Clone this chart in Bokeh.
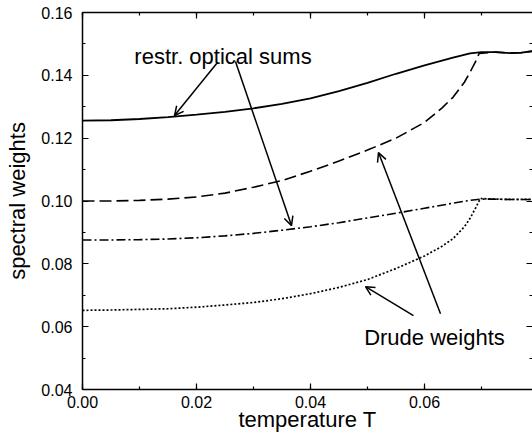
from bokeh.plotting import figure
from bokeh.models import (Range1d, LinearAxis, SingleIntervalTicker, NumeralTickFormatter,
                          CustomJSTickFormatter, Arrow, OpenHead, Label)
from bokeh.embed import file_html
from bokeh.resources import INLINE

# ---- data ----
T_opt1 = [0, 0.005, 0.01, 0.015, 0.02, 0.025, 0.03, 0.035, 0.04, 0.045, 0.05, 0.055,
          0.06, 0.065, 0.068, 0.070, 0.0725, 0.075, 0.077, 0.079]
V_opt1 = [0.1256, 0.1257, 0.1261, 0.1267, 0.1275, 0.1284, 0.1295, 0.1309, 0.1327, 0.1350,
          0.1376, 0.1405, 0.1432, 0.1456, 0.1470, 0.1474, 0.1474, 0.1471, 0.1472, 0.1477]

T_dru1 = [0, 0.005, 0.01, 0.015, 0.02, 0.025, 0.03, 0.035, 0.04, 0.045, 0.05, 0.055,
          0.06, 0.063, 0.065, 0.067, 0.068, 0.069, 0.0696, 0.0725, 0.075, 0.077, 0.079]
V_dru1 = [0.1000, 0.1000, 0.1002, 0.1006, 0.1013, 0.1025, 0.1044, 0.1065, 0.1095, 0.1127,
          0.1162, 0.1200, 0.1250, 0.1295, 0.1330, 0.1378, 0.1410, 0.1445, 0.1470, 0.1474,
          0.1471, 0.1472, 0.1477]

T_opt2 = [0, 0.005, 0.01, 0.015, 0.02, 0.025, 0.03, 0.035, 0.04, 0.045, 0.05, 0.055,
          0.06, 0.065, 0.068, 0.0698, 0.072, 0.075, 0.079]
V_opt2 = [0.0876, 0.0876, 0.0877, 0.0879, 0.0883, 0.0889, 0.0897, 0.0907, 0.0918, 0.0931,
          0.0946, 0.0961, 0.0977, 0.0993, 0.1002, 0.1006, 0.1006, 0.1005, 0.1005]

T_dru2 = [0, 0.005, 0.01, 0.015, 0.02, 0.025, 0.03, 0.035, 0.04, 0.045, 0.05, 0.055,
          0.06, 0.063, 0.065, 0.067, 0.068, 0.069, 0.0698, 0.072, 0.075, 0.079]
V_dru2 = [0.0652, 0.0653, 0.0655, 0.0657, 0.0662, 0.0669, 0.0677, 0.0689, 0.0705, 0.0725,
          0.0750, 0.0785, 0.0825, 0.0855, 0.0880, 0.0918, 0.0945, 0.0979, 0.1008, 0.1006,
          0.1005, 0.1005]

# annotation texts and arrows (start T, start V, tip T, tip V)
label_opt = "restr. optical sums"
label_opt_pos = (0.02465, 0.1460)
arrows_opt = [(0.02368, 0.14408, 0.01614, 0.12720),
              (0.02684, 0.14439, 0.03667, 0.09217)]
label_dru = "Drude weights"
label_dru_pos = (0.06175, 0.0566)
arrows_dru = [(0.06281, 0.06414, 0.05193, 0.11541),
              (0.05807, 0.06350, 0.04965, 0.07274)]
x_title = "temperature T"
y_title = "spectral weights"

FONT = "Liberation Sans"

p = figure(width=532, height=434, output_backend="svg", toolbar_location=None,
           x_range=Range1d(0, 0.07895), y_range=Range1d(0.04, 0.16),
           x_axis_label=x_title, y_axis_label=y_title)
p.min_border_left = 82
p.min_border_right = 0
p.min_border_top = 12
p.min_border_bottom = 45
p.outline_line_color = None
p.grid.visible = False
p.background_fill_color = "white"
p.border_fill_color = "white"

def style(ax, labels=True):
    ax.ticker = SingleIntervalTicker(interval=0.02, num_minor_ticks=2)
    ax.axis_line_color = "black"
    ax.axis_line_width = 1.5
    ax.major_tick_in = 6
    ax.major_tick_out = 0
    ax.minor_tick_in = 3
    ax.minor_tick_out = 0
    ax.major_tick_line_color = "black"
    ax.minor_tick_line_color = "black"
    ax.major_tick_line_width = 1.2
    ax.minor_tick_line_width = 1.2
    ax.major_label_text_font = FONT
    ax.major_label_text_color = "black"
    ax.major_label_text_font_size = "16px"
    if labels:
        ax.formatter = NumeralTickFormatter(format="0.00")
    else:
        ax.formatter = CustomJSTickFormatter(code="return '';")
        ax.major_label_standoff = 0

xa = p.xaxis[0]
ya = p.yaxis[0]
style(xa)
style(ya)
xa.major_label_standoff = 6
ya.major_label_standoff = 10
for ax in (xa, ya):
    ax.axis_label_text_font = FONT
    ax.axis_label_text_font_size = "22px"
    ax.axis_label_text_font_style = "normal"
    ax.axis_label_text_color = "black"
xa.axis_label_standoff = -4
ya.axis_label_standoff = 8

top = LinearAxis()
style(top, labels=False)
p.add_layout(top, "above")
right = LinearAxis()
style(right, labels=False)
right.axis_line_color = None
p.add_layout(right, "right")

p.line(T_opt1, V_opt1, line_color="black", line_width=1.8)
p.line(T_dru1, V_dru1, line_color="black", line_width=1.6, line_dash="12 5")
p.line(T_opt2, V_opt2, line_color="black", line_width=1.6, line_dash="9 3 2 3")
p.line(T_dru2, V_dru2, line_color="black", line_width=1.7, line_dash="2 2")

for (x0, y0, x1, y1) in arrows_opt + arrows_dru:
    p.add_layout(Arrow(end=OpenHead(size=9, line_color="black", line_width=1.5),
                       x_start=x0, y_start=y0, x_end=x1, y_end=y1,
                       line_color="black", line_width=1.5))

for txt, (tx, ty) in ((label_opt, label_opt_pos), (label_dru, label_dru_pos)):
    p.add_layout(Label(x=tx, y=ty, text=txt, text_align="center",
                       text_baseline="alphabetic", text_font=FONT,
                       text_font_size="22px", text_color="black"))

open("out.html", "w").write(file_html(p, INLINE))
